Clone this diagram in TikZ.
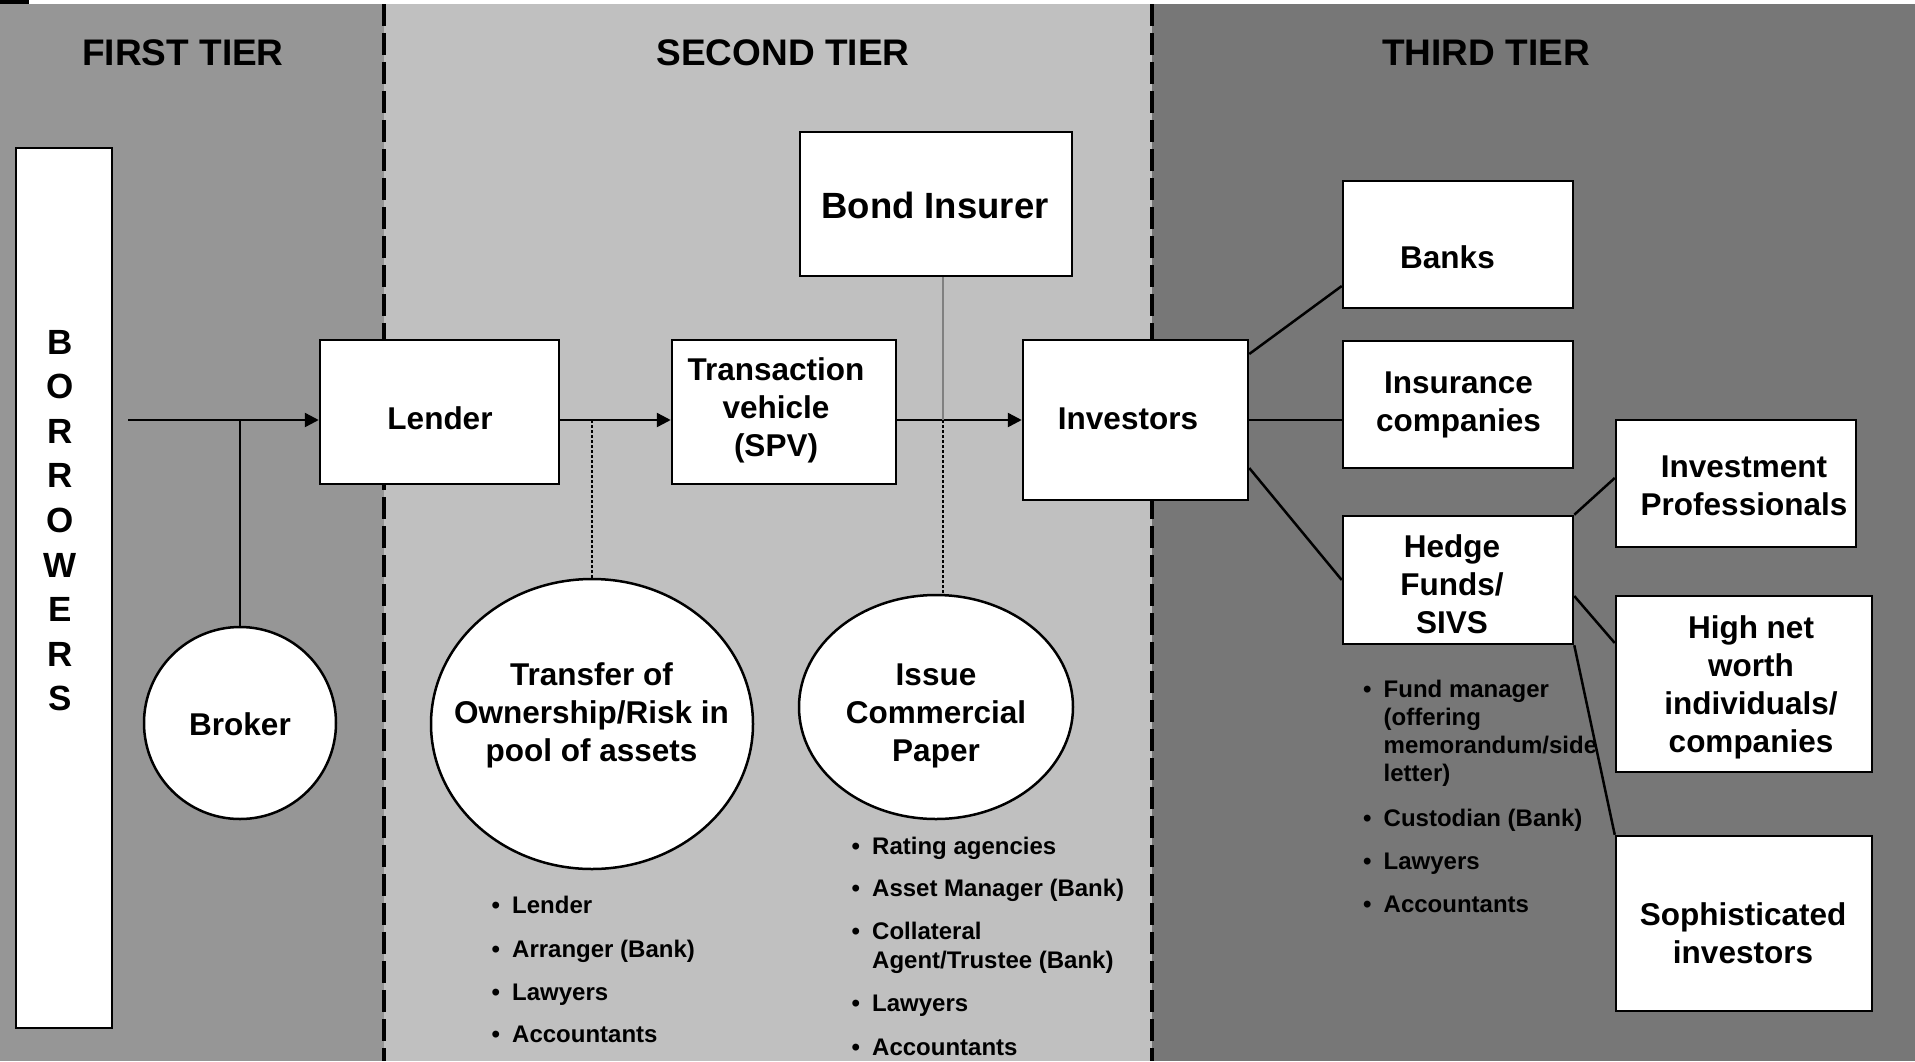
\documentclass[tikz,border=0pt]{standalone}
\usepackage{fontspec}
\setmainfont{Liberation Sans}
\usetikzlibrary{arrows.meta,shapes.geometric,calc}

\definecolor{tierA}{gray}{0.588}
\definecolor{tierB}{gray}{0.753}
\definecolor{tierC}{gray}{0.467}

\newcommand{\fsz}[2]{\fontsize{#1}{#2}\selectfont\bfseries}
\newcommand{\bitem}[1]{\makebox[20.5pt][l]{\textbullet}#1}

\begin{document}
\begin{tikzpicture}[x=1pt,y=-1pt,
  box/.style={draw=black,line width=2.5pt,fill=white,inner sep=0pt,rectangle},
  oval/.style={draw=black,line width=2.5pt,fill=white,inner sep=0pt,ellipse},
  lbl/.style={font=\fsz{31.5}{38},align=center,inner sep=0pt},
  ttl/.style={font=\fsz{37}{44},inner sep=0pt},
  itm/.style={font=\fsz{24}{28},anchor=base west,inner sep=0pt},
  link/.style={line width=2.5pt},
  flow/.style={link,-{Triangle[length=14pt,width=14pt]}},
  dots/.style={line width=2.5pt,dash pattern=on 2.5pt off 2.5pt},
  tierline/.style={line width=3.3pt,dash pattern=on 21.5pt off 7.5pt},
]
\useasboundingbox (0,0) rectangle (1915,1061);

% background bands of the three tiers
\fill[white] (0,0) rectangle (1915,4);
\fill[black] (0,0) rectangle (29,4);
\fill[tierA] (0,4) rectangle (384,1061);
\fill[tierB] (384,4) rectangle (1152,1061);
\fill[tierC] (1152,4) rectangle (1915,1061);
\draw[tierline] (384,4) -- (384,1061);
\draw[tierline] (1152,4) -- (1152,1061);

% tier headings
\node[ttl] (t1) at (183,53) {FIRST TIER};
\node[ttl] (t2) at (783,53) {SECOND TIER};
\node[ttl] (t3) at (1486,53) {THIRD TIER};

% boxes
\node[box,minimum width=96pt,minimum height=880pt] (borrowers) at (64,588) {};
\node[box,minimum width=239pt,minimum height=144pt] (lender) at (439.5,412) {};
\node[box,minimum width=224pt,minimum height=144pt] (spv) at (784,412) {};
\node[box,minimum width=272pt,minimum height=144pt] (bond) at (936,204) {};
\node[box,minimum width=225pt,minimum height=160pt] (investors) at (1135.5,420) {};
\node[box,minimum width=230pt,minimum height=127pt] (banks) at (1458,244.5) {};
\node[box,minimum width=230pt,minimum height=127pt] (insurance) at (1458,404.5) {};
\node[box,minimum width=230pt,minimum height=128pt] (hedge) at (1458,580) {};
\node[box,minimum width=240pt,minimum height=127pt] (invprof) at (1736,483.5) {};
\node[box,minimum width=256pt,minimum height=176pt] (hnw) at (1744,684) {};
\node[box,minimum width=256pt,minimum height=175pt] (soph) at (1744,923.5) {};

% ovals
\node[oval,minimum width=192pt,minimum height=192pt] (broker) at (240,723) {};
\node[oval,minimum width=322pt,minimum height=290pt] (transfer) at (592,724) {};
\node[oval,minimum width=274pt,minimum height=224pt] (issue) at (936,707) {};

% main flow
\coordinate (src) at (128,420);
\coordinate (tap) at (943,420);
\draw[flow] (src) -- (src -| lender.west);
\draw[link] (broker.north) -- (broker.north |- src);
\draw[flow] (lender.east |- src) -- (spv.west |- src);
\draw[dots] (transfer.north) -- (transfer.north |- src);
\draw[flow] (spv.east |- src) -- (investors.west |- src);
\draw[line width=2pt,draw=gray] (tap |- bond.south) -- (tap);
\draw[dots] (tap) -- (tap |- issue.north);

% investor branches
\draw[link] ($(investors.east)+(0,-66)$) -- ($(banks.west)+(0,41.5)$);
\draw[link] (investors.east) -- (investors.east -| insurance.west);
\draw[link] ($(investors.east)+(0,48)$) -- (hedge.west);
\draw[link] (hedge.north east) -- ($(invprof.west)+(0,-5.5)$);
\draw[link] ($(hedge.east)+(0,16)$) -- ($(hnw.west)+(0,-41)$);
\draw[link] (hedge.south east) -- (soph.north west);

% labels
\node[font=\fsz{35}{44.6},align=center,inner sep=0pt] (borrowers-t) at (60,520.7)
  {B\\O\\R\\R\\O\\W\\E\\R\\S};
\node[lbl] (lender-t) at (440,418) {Lender};
\node[lbl] (spv-t) at (776,410.5) {Transaction\\vehicle\\(SPV)};
\node[lbl,font=\fsz{36.5}{44}] (bond-t) at (935,205.5) {Bond Insurer};
\node[lbl] (investors-t) at (1128,418.5) {Investors};
\node[lbl] (banks-t) at (1447.5,257.5) {Banks};
\node[lbl] (insurance-t) at (1458.5,405) {Insurance\\companies};
\node[lbl] (hedge-t) at (1452,584) {Hedge\\Funds/\\SIVS};
\node[lbl] (invprof-t) at (1744,485.7) {Investment\\Professionals};
\node[lbl] (hnw-t) at (1751,687) {High net\\worth\\individuals/\\companies};
\node[lbl] (soph-t) at (1743,933) {Sophisticated\\investors};
\node[lbl] (broker-t) at (240,724.5) {Broker};
\node[lbl] (transfer-t) at (591.5,715) {Transfer of\\Ownership/Risk in\\pool of assets};
\node[lbl] (issue-t) at (936,715.5) {Issue\\Commercial\\Paper};

% parties of the pool transfer
\node[itm] (pa1) at (491.5,913) {\bitem{Lender}};
\node[itm] (pa2) at (491.5,957) {\bitem{Arranger (Bank)}};
\node[itm] (pa3) at (491.5,1000) {\bitem{Lawyers}};
\node[itm] (pa4) at (491.5,1042) {\bitem{Accountants}};

% parties of the paper issue
\node[itm] (pb1) at (851.5,854) {\bitem{Rating agencies}};
\node[itm] (pb2) at (851.5,896) {\bitem{Asset Manager (Bank)}};
\node[itm] (pb3) at (851.5,939) {\bitem{Collateral}};
\node[itm] (pb3b) at (872,968) {Agent/Trustee (Bank)};
\node[itm] (pb4) at (851.5,1011) {\bitem{Lawyers}};
\node[itm] (pb5) at (851.5,1055) {\bitem{Accountants}};

% parties of the funds
\node[itm] (pc1) at (1363,697) {\bitem{Fund manager}};
\node[itm] (pc1b) at (1383.5,725) {(offering};
\node[itm] (pc1c) at (1383.5,753) {memorandum/side};
\node[itm] (pc1d) at (1383.5,781) {letter)};
\node[itm] (pc2) at (1363,826) {\bitem{Custodian (Bank)}};
\node[itm] (pc3) at (1363,869) {\bitem{Lawyers}};
\node[itm] (pc4) at (1363,912) {\bitem{Accountants}};
\end{tikzpicture}
\end{document}
